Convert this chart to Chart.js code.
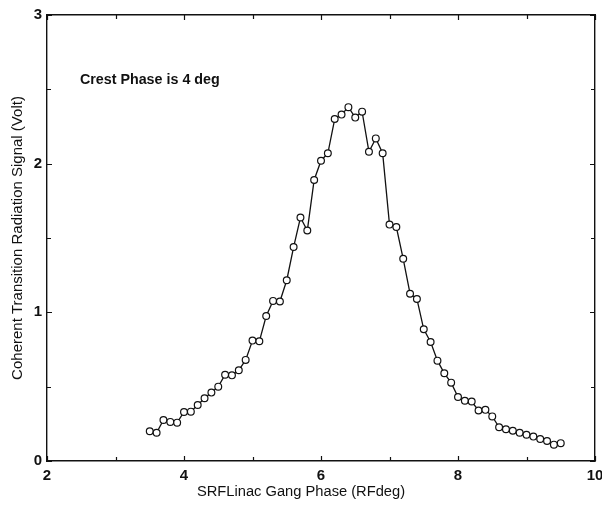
<!DOCTYPE html>
<html>
<head>
<meta charset="utf-8">
<script src="https://cdn.jsdelivr.net/npm/chart.js@4.4.1/dist/chart.umd.min.js"></script>
<style>
  html, body { margin: 0; padding: 0; background: #ffffff; }
  #wrap { width: 602px; height: 505px; position: relative; }
</style>
</head>
<body>
<div id="wrap"><canvas id="c" width="602" height="505"></canvas></div>
<script>
// ---- data ----
const phaseDeg = [
  3.5, 3.6, 3.7, 3.8, 3.9, 4.0, 4.1, 4.2, 4.3, 4.4,
  4.5, 4.6, 4.7, 4.8, 4.9, 5.0, 5.1, 5.2, 5.3, 5.4,
  5.5, 5.6, 5.7, 5.8, 5.9, 6.0, 6.1, 6.2, 6.3, 6.4,
  6.5, 6.6, 6.7, 6.8, 6.9, 7.0, 7.1, 7.2, 7.3, 7.4,
  7.5, 7.6, 7.7, 7.8, 7.9, 8.0, 8.1, 8.2, 8.3, 8.4,
  8.5, 8.6, 8.7, 8.8, 8.9, 9.0, 9.1, 9.2, 9.3, 9.4,
  9.5
];
const signalVolt = [
  0.20, 0.19, 0.276, 0.263, 0.258, 0.33, 0.332, 0.377, 0.422, 0.46,
  0.50, 0.58, 0.576, 0.61, 0.68, 0.81, 0.805, 0.975, 1.077, 1.073,
  1.216, 1.439, 1.638, 1.55, 1.89, 2.02, 2.07, 2.30, 2.33, 2.38,
  2.31, 2.35, 2.08, 2.17, 2.07, 1.59, 1.574, 1.36, 1.125, 1.09,
  0.886, 0.80, 0.675, 0.59, 0.527, 0.43, 0.405, 0.40, 0.34, 0.344,
  0.30, 0.227, 0.214, 0.203, 0.19, 0.177, 0.164, 0.148, 0.135, 0.11,
  0.12
];
const xTickLabels = [2, 4, 6, 8, 10];
const yTickLabels = [0, 1, 2, 3];
const xTickMarks = [2, 3, 4, 5, 6, 7, 8, 9, 10];
const yTickMarks = [0, 0.5, 1, 1.5, 2, 2.5, 3];
const xTitle = 'SRFLinac Gang Phase (RFdeg)';
const yTitle = 'Coherent Transition Radiation Signal (Volt)';
const noteText = 'Crest Phase is 4 deg';

const INK = '#111111';
const FONT = "'Liberation Sans', Arial, Helvetica, sans-serif";

const points = phaseDeg.map((p, i) => ({ x: p, y: signalVolt[i] }));

const extras = {
  id: 'extras',
  afterDraw(chart) {
    const ctx = chart.ctx;
    const xs = chart.scales.x, ys = chart.scales.y;
    const a = chart.chartArea;
    ctx.save();
    ctx.strokeStyle = INK;
    ctx.lineWidth = 1.2;
    ctx.beginPath();
    xTickMarks.forEach(v => {
      const px = Math.round(xs.getPixelForValue(v)) + 0.5;
      const len = (v % 2 === 0) ? 5 : 4;
      ctx.moveTo(px, a.bottom); ctx.lineTo(px, a.bottom - len);
      ctx.moveTo(px, a.top); ctx.lineTo(px, a.top + len);
    });
    yTickMarks.forEach(v => {
      const py = Math.round(ys.getPixelForValue(v)) + 0.5;
      const len = (v % 1 === 0) ? 5 : 4;
      ctx.moveTo(a.left, py); ctx.lineTo(a.left + len, py);
      ctx.moveTo(a.right, py); ctx.lineTo(a.right - len, py);
    });
    ctx.stroke();

    // x-axis title
    ctx.fillStyle = INK;
    ctx.font = '14.7px ' + FONT;
    ctx.textAlign = 'center';
    ctx.textBaseline = 'middle';
    ctx.fillText(xTitle, 301, 492);

    // annotation
    ctx.font = 'bold 14.3px ' + FONT;
    ctx.textAlign = 'left';
    ctx.fillText(noteText, xs.getPixelForValue(2.48), ys.getPixelForValue(2.56));
    ctx.restore();
  }
};

new Chart(document.getElementById('c'), {
  type: 'line',
  data: {
    datasets: [{
      data: points,
      borderColor: INK,
      borderWidth: 1.3,
      pointRadius: 3.4,
      pointHoverRadius: 3.4,
      pointBackgroundColor: '#ffffff',
      pointBorderColor: INK,
      pointBorderWidth: 1.2,
      tension: 0,
      fill: false
    }]
  },
  options: {
    responsive: false,
    animation: false,
    events: [],
    layout: { padding: { top: 15, right: 7, bottom: 0, left: 0 } },
    plugins: { legend: { display: false }, tooltip: { enabled: false } },
    scales: {
      x: {
        type: 'linear', position: 'bottom', min: 2, max: 10,
        afterBuildTicks: s => { s.ticks = xTickLabels.map(v => ({ value: v })); },
        afterFit: s => { s.height = 44; s.paddingLeft = 0; s.paddingRight = 0; },
        grid: { display: false, drawTicks: false },
        border: { display: true, color: INK, width: 1.4 },
        ticks: { color: INK, padding: 6, maxRotation: 0, autoSkip: false,
                 font: { family: FONT, size: 15, weight: 'bold' } }
      },
      y: {
        type: 'linear', position: 'left', min: 0, max: 3,
        afterBuildTicks: s => { s.ticks = yTickLabels.map(v => ({ value: v })); },
        afterFit: s => { s.width = 47; s.paddingTop = 0; s.paddingBottom = 0; },
        grid: { display: false, drawTicks: false },
        border: { display: true, color: INK, width: 1.4 },
        ticks: { color: INK, padding: 5, autoSkip: false,
                 font: { family: FONT, size: 15, weight: 'bold' } },
        title: { display: true, text: yTitle, color: INK,
                 padding: { top: 9, bottom: 0 },
                 font: { family: FONT, size: 15 } }
      },
      x2: {
        type: 'linear', position: 'top', min: 2, max: 10,
        afterFit: s => { s.height = 0; s.paddingLeft = 0; s.paddingRight = 0; },
        grid: { display: false, drawTicks: false },
        border: { display: true, color: INK, width: 1.4 },
        ticks: { display: false }
      },
      y2: {
        type: 'linear', position: 'right', min: 0, max: 3,
        afterFit: s => { s.width = 0; s.paddingTop = 0; s.paddingBottom = 0; },
        grid: { display: false, drawTicks: false },
        border: { display: true, color: INK, width: 1.4 },
        ticks: { display: false }
      }
    }
  },
  plugins: [extras]
});
</script>
</body>
</html>
